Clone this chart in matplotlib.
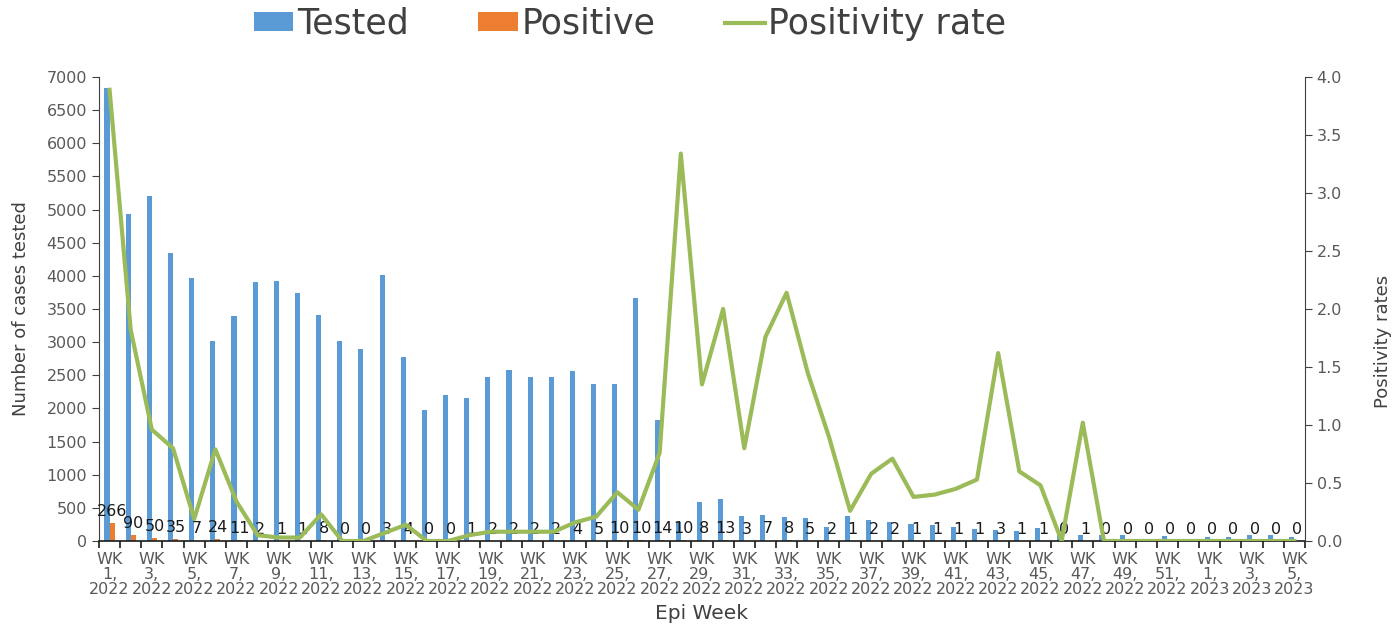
import numpy as np
import matplotlib
matplotlib.use("Agg")
from matplotlib import pyplot as plt

# epi weeks: WK1-WK52 of 2022, then WK1-WK5 of 2023
week_nums = list(range(1, 53)) + [1, 2, 3, 4, 5]
week_years = [2022] * 52 + [2023] * 5

tested = [6830, 4940, 5200, 4350, 3970, 3020, 3400, 3900, 3920, 3740,
          3410, 3010, 2890, 4010, 2770, 1970, 2200, 2150, 2470, 2580,
          2470, 2480, 2560, 2370, 2370, 3670, 1830, 290, 590, 640,
          370, 390, 360, 340, 210, 380, 320, 280, 250, 240,
          210, 180, 170, 150, 190, 110, 90, 90, 90, 30,
          75, 25, 55, 65, 90, 90, 55]

positive = [266, 90, 50, 35, 7, 24, 11, 2, 1, 1,
            8, 0, 0, 3, 4, 0, 0, 1, 2, 2,
            2, 2, 4, 5, 10, 10, 14, 10, 8, 13,
            3, 7, 8, 5, 2, 1, 2, 2, 1, 1,
            1, 1, 3, 1, 1, 0, 1, 0, 0, 0,
            0, 0, 0, 0, 0, 0, 0]

# positivity rate (%)
pos_rate = [3.89, 1.82, 0.96, 0.80, 0.19, 0.79, 0.34, 0.05, 0.03, 0.03,
            0.23, 0.0, 0.0, 0.07, 0.14, 0.0, 0.0, 0.05, 0.08, 0.08,
            0.08, 0.08, 0.16, 0.21, 0.42, 0.27, 0.76, 3.34, 1.35, 2.00,
            0.80, 1.76, 2.14, 1.45, 0.90, 0.26, 0.58, 0.71, 0.38, 0.40,
            0.45, 0.53, 1.62, 0.60, 0.48, 0.0, 1.02, 0.0, 0.0, 0.0,
            0.0, 0.0, 0.0, 0.0, 0.0, 0.0, 0.0]

blue = "#5B9BD5"
orange = "#ED7D31"
green = "#9BBB59"
grey = "#595959"

plt.rcParams['font.family'] = ['DejaVu Sans']

fig = plt.figure(figsize=(14, 6.24), dpi=100)
ax1 = fig.add_axes([0.0707, 0.133, 0.8614, 0.7436])

x = np.arange(len(tested))
w = 0.24
b1 = ax1.bar(x - 0.12, tested, width=w, color=blue, label="Tested")
b2 = ax1.bar(x + 0.12, positive, width=w, color=orange, label="Positive")
ax1.bar_label(b2, labels=[str(v) for v in positive], padding=3,
              fontsize=11.5, color="#1a1a1a")

ax1.set_xlim(-0.5, len(tested) - 0.5)
ax1.set_ylim(0, 7000)
ax1.set_yticks(np.arange(0, 7001, 500))

# labels every other week, tick marks at category boundaries
lab_idx = x[::2]
ax1.set_xticks(lab_idx)
ax1.set_xticklabels([f"WK\n{week_nums[i]},\n{week_years[i]}" for i in lab_idx],
                    fontsize=11.5, color=grey, linespacing=1.0)
ax1.set_xticks(np.arange(-0.5, len(tested), 1), minor=True)
ax1.tick_params(axis="x", which="major", length=0, pad=8)
ax1.tick_params(axis="x", which="minor", length=5, width=1.2, color="#1a1a1a")
ax1.tick_params(axis="y", labelsize=11.5, labelcolor=grey, length=5,
                color="#404040")

ax1.set_xlabel("Epi Week", fontsize=14.5, color="#404040", labelpad=5)
ax1.set_ylabel("Number of cases tested", fontsize=13, color="#404040")
ax1.yaxis.set_label_coords(-0.057, 0.5)

ax1.spines["top"].set_visible(False)
ax1.spines["left"].set_color("#404040")
ax1.spines["right"].set_visible(False)
ax1.spines["bottom"].set_color("#1a1a1a")
ax1.spines["bottom"].set_linewidth(1.2)

ax2 = ax1.twinx()
ln, = ax2.plot(x, pos_rate, color=green, linewidth=3, label="Positivity rate")
ax2.set_ylim(0, 4)
ax2.set_yticks(np.arange(0, 4.01, 0.5))
ax2.set_yticklabels([f"{v:.1f}" for v in np.arange(0, 4.01, 0.5)])
ax2.tick_params(axis="y", labelsize=11.5, labelcolor=grey, length=5,
                color="#404040")
ax2.set_ylabel("Positivity rates", fontsize=13, color="#404040")
ax2.yaxis.set_label_coords(1.057, 0.43)
for s in ["top", "left", "bottom"]:
    ax2.spines[s].set_visible(False)
ax2.spines["right"].set_color("#404040")

fig.legend(handles=[b1, b2, ln], loc="center", bbox_to_anchor=(0.45, 0.962),
           ncol=3, frameon=False, fontsize=25, handlelength=1.15,
           handleheight=0.45, handletextpad=0.1, columnspacing=2.0,
           labelcolor="#404040")

plt.savefig("out.png", dpi=100)
